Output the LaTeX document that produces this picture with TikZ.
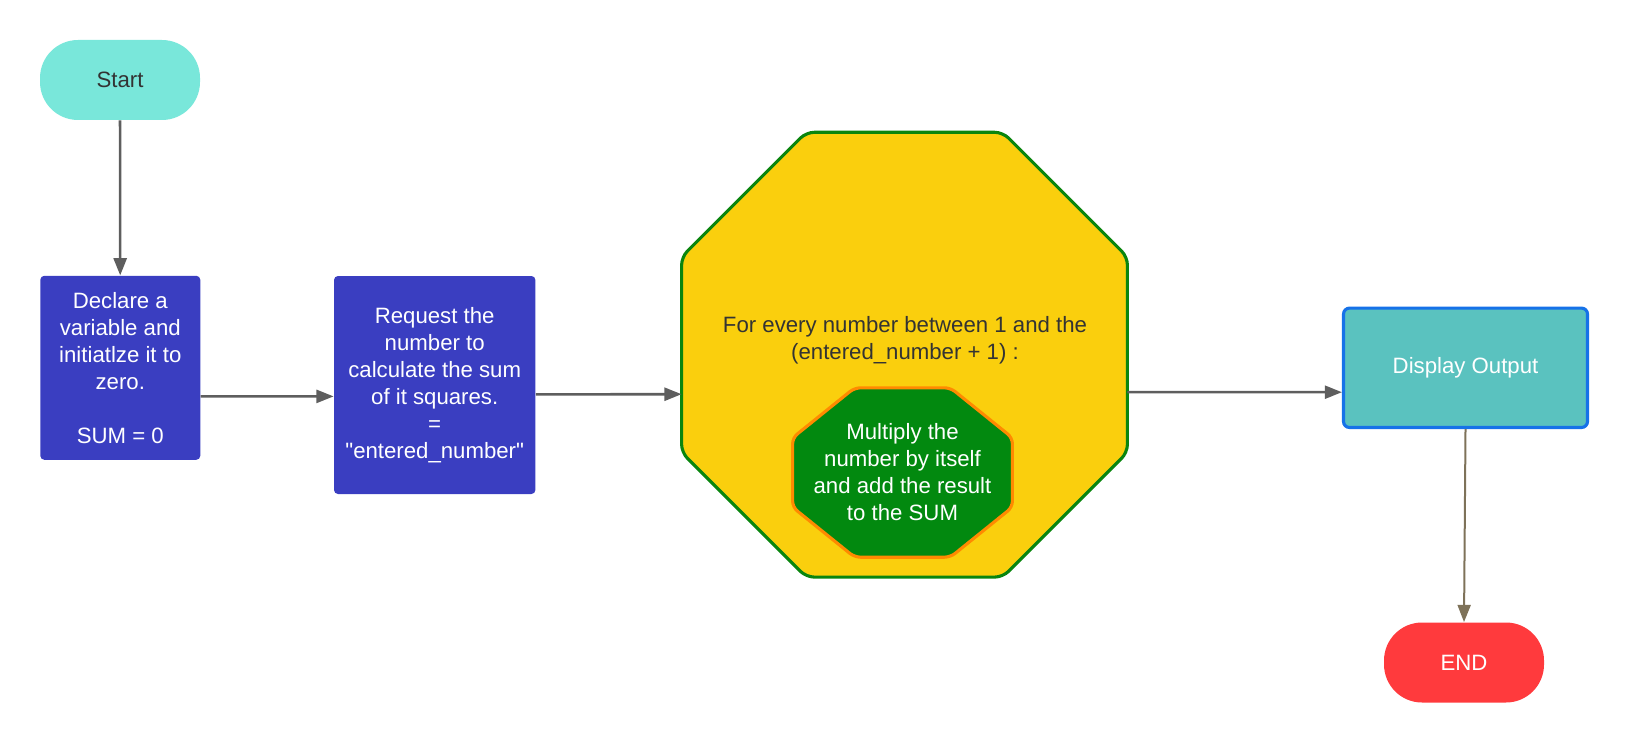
\documentclass[tikz,border=0pt]{standalone}
\usepackage{fontspec}
\setmainfont{Liberation Sans}[Ligatures=TeXOff]
\usetikzlibrary{arrows.meta,backgrounds}

\definecolor{startgreen}{HTML}{79E7DA}
\definecolor{procblue}{HTML}{3A3EC1}
\definecolor{loopyellow}{HTML}{FACF0D}
\definecolor{loopgreen}{HTML}{0A850E}
\definecolor{bodygreen}{HTML}{02890F}
\definecolor{bodyorange}{HTML}{FF8A00}
\definecolor{outteal}{HTML}{5AC2BF}
\definecolor{outblue}{HTML}{1672E8}
\definecolor{endred}{HTML}{FF3A3D}
\definecolor{flowgray}{HTML}{5E5E5E}
\definecolor{flowbrown}{HTML}{7E7259}
\definecolor{darktext}{HTML}{333333}

\begin{document}
\begin{tikzpicture}[x=0.5pt,y=-0.5pt,
  every node/.style={font=\fontsize{11.1}{13.5}\selectfont, align=center, inner sep=0pt},
  terminal/.style={rectangle, rounded corners=19pt, minimum width=80pt, minimum height=40pt},
  process/.style={rectangle, rounded corners=2pt, fill=procblue, text=white, minimum width=80pt},
  forloop/.style={rounded corners=4pt, fill=loopyellow, draw=loopgreen, line width=1.55pt},
  loopbody/.style={rounded corners=3pt, fill=bodygreen, draw=bodyorange, line width=1.55pt},
  flow/.style={draw=flowgray, line width=1.3pt, -{Triangle[length=8.6pt,width=6.5pt]}},]
	\useasboundingbox (0,0) rectangle (1626,743);

	\node[terminal, fill=startgreen, text=darktext] (start) at (120,80) {Start};
	\node[process, minimum height=92pt] (declare) at (120.3,367.8)
		{Declare a\\variable and\\initiatlze it to\\zero.\\[13.5pt]SUM = 0};
	\node[process, minimum width=100.7pt, minimum height=109pt] (request) at (434.7,385)
		{Request the\\number to\\calculate the sum\\of it squares.\\=\\"entered\_number"};
	\node[minimum width=222.5pt, minimum height=222pt] (forall) at (904.5,354.7) {};
	\node[text=darktext] (forlabel) at (905,340)
		{For every number between 1 and the\\(entered\_number + 1) :};
	\node[minimum width=109.5pt, minimum height=84.3pt, text=white] (multiply) at (902.5,472.5)
		{Multiply the\\number by itself\\and add the result\\to the SUM};
	\node[rectangle, rounded corners=3pt, fill=outteal, draw=outblue, line width=1.55pt, text=white,
		minimum width=122pt, minimum height=59.7pt] (output) at (1465.5,367.8) {Display Output};
	\node[terminal, fill=endred, text=white] (end) at (1464,662.5) {END};

	% octagons behind the loop texts
	\begin{scope}[on background layer]
		\filldraw[forloop] ([xshift=62.3pt]forall.north west) -- ([xshift=-62.3pt]forall.north east)
			-- ([yshift=-62.3pt]forall.north east) -- ([yshift=62.3pt]forall.south east)
			-- ([xshift=-62.3pt]forall.south east) -- ([xshift=62.3pt]forall.south west)
			-- ([yshift=62.3pt]forall.south west) -- ([yshift=-62.3pt]forall.north west) -- cycle;
		\filldraw[loopbody] ([xshift=31pt]multiply.north west) -- ([xshift=-31pt]multiply.north east)
			-- ([yshift=-25pt]multiply.north east) -- ([yshift=25pt]multiply.south east)
			-- ([xshift=-31pt]multiply.south east) -- ([xshift=31pt]multiply.south west)
			-- ([yshift=25pt]multiply.south west) -- ([yshift=-25pt]multiply.north west) -- cycle;
	\end{scope}

	% connectors
	\draw[flow] (start) -- (declare);
	\draw[flow] ([yshift=-14.25pt]declare.east) -- ([yshift=-5.7pt]request.west);
	\draw[flow] ([yshift=-4.7pt]request.east) -- ([yshift=-19.75pt]forall.west);
	\draw[flow] ([yshift=-18.7pt]forall.east) -- ([yshift=-12.2pt]output.west);
	\draw[flow, draw=flowbrown, line width=1pt] (output.south) -- (end.north);
\end{tikzpicture}
\end{document}
